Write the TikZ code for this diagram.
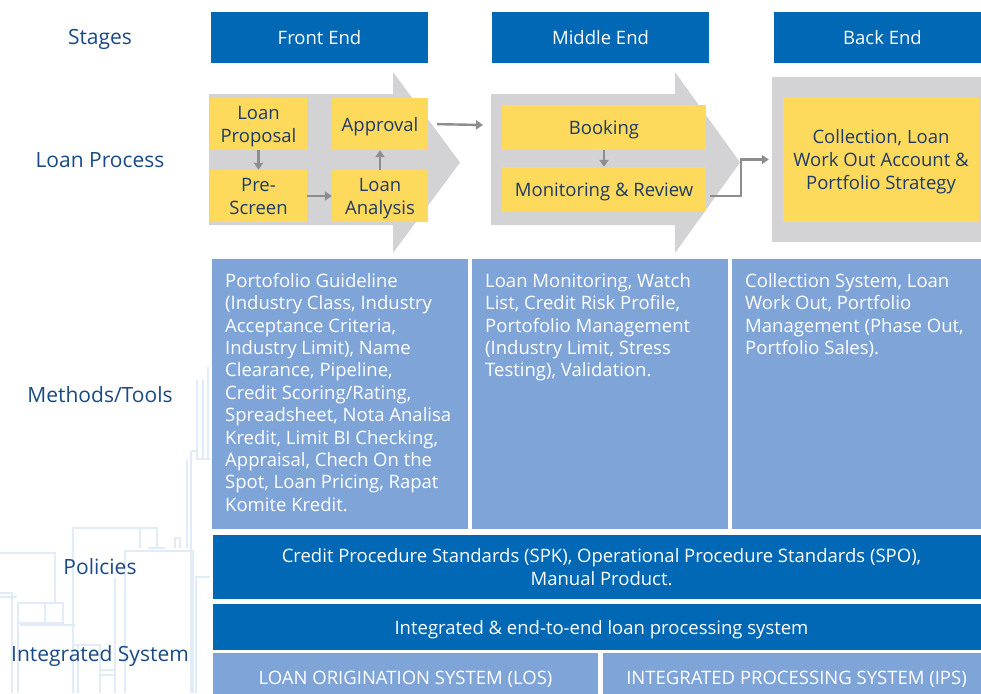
\documentclass[tikz,border=0pt]{standalone}
\usepackage{fontspec}
\setmainfont{Open Sans}
\usetikzlibrary{arrows.meta}
\definecolor{hdrblue}{HTML}{0068B4}
\definecolor{ltblue}{HTML}{7FA4D8}
\definecolor{grayarr}{HTML}{D3D3D5}
\definecolor{yel}{HTML}{FDD95C}
\definecolor{navy}{HTML}{1A4A86}
\definecolor{ytext}{HTML}{1F3A66}
\definecolor{flowgray}{HTML}{8C8D8F}
\definecolor{bldg}{HTML}{E2ECF8}
\newcommand{\sth}{\rule{0pt}{18.6pt}}
\tikzset{
  strutted/.style={execute at begin node={\rule{0pt}{18.6pt}}, execute at end node={\rule[-4.4pt]{0pt}{0pt}}},
  lbl/.style={text=navy, font=\fontsize{21}{24}\selectfont, strutted},
  hdr/.style={fill=hdrblue, text=white, font=\fontsize{18.5}{22.5}\selectfont, inner sep=0pt, strutted},
  ybox/.style={fill=yel, text=ytext, font=\fontsize{18.5}{23}\selectfont, align=center, inner sep=0pt, strutted},
  mbox/.style={fill=ltblue, inner sep=0pt},
  sysbox/.style={fill=ltblue, inner sep=0pt, text=white, font=\fontsize{18.5}{22.5}\selectfont, strutted},
  mtext/.style={text=white, font=\fontsize{18.5}{22.4}\selectfont, align=left, inner sep=0pt, anchor=north west},
  flow/.style={draw=flowgray, line width=2.4pt, -{Triangle[length=7pt,width=9pt]}},
  bl/.style={draw=bldg, line width=1.3pt}
}
\begin{document}
\begin{tikzpicture}[x=1pt,y=-1pt]
\useasboundingbox (0,0) rectangle (981,693);
\clip (0,0) rectangle (981,693);
\fill[white] (0,0) rectangle (981,693);
% background buildings
\draw[bl] (197,380) -- (197,459) -- (210,459);
\draw[bl] (203,380) -- (203,459);
\draw[bl] (208,367) -- (208,459);
\draw[bl] (191,451) -- (197,451);
\draw[bl] (191,451) -- (191,693);
\draw[bl] (187,460) -- (187,548);
\draw[bl] (0,553) -- (55,553) -- (55,603);
\draw[bl] (73,693) -- (73,528) -- (157,528) -- (157,548);
\draw[bl] (140,528) -- (140,548);
\draw[bl] (148,548) -- (165,548);
\draw[bl] (175,548) -- (175,538) -- (180,538) -- (180,548);
\draw[bl] (125,693) -- (125,551) -- (193,551) -- (193,693);
\draw[bl] (115,693) -- (115,578);
\draw[bl] (196,693) -- (196,577) -- (210,577);
\draw[bl] (18,693) -- (18,603) -- (63,603) -- (63,623) -- (18,623);
\draw[bl] (45,603) -- (45,623);
\draw[bl] (20,625) -- (75,625);
\draw[bl] (0,593) -- (12,593) -- (12,693);
\draw[bl] (0,597) -- (17,597);
\draw[bl] (73,645) -- (100,645) -- (100,693);
\draw[bl] (78,645) -- (78,693);
\draw[bl] (100,670) -- (115,670);
\draw[bl] (100,675) -- (115,675);
% left labels
\node[lbl] (lStages) at (100,38) {Stages};
\node[lbl] (lLoan) at (100,160) {Loan Process};
\node[lbl] (lMeth) at (100,395) {Methods/Tools};
\node[lbl] (lPol) at (100,567) {Policies};
\node[lbl] (lInt) at (100,655) {Integrated System};
% stage headers
\node[hdr, minimum width=217pt, minimum height=51pt] (FE) at (319.5,37.5) {Front End};
\node[hdr, minimum width=217pt, minimum height=51pt] (ME) at (600.5,37.5) {Middle End};
\node[hdr, minimum width=217pt, minimum height=51pt] (BE) at (882.5,37.5) {Back End};
% big gray arrows
\fill[grayarr] (209,94) -- (393,94) -- (393,72) -- (460,162.5) -- (393,253) -- (393,225) -- (209,225) -- cycle;
\fill[grayarr] (491,94) -- (675,94) -- (675,72) -- (740,162.5) -- (675,253) -- (675,225) -- (491,225) -- cycle;
\node[fill=grayarr, minimum width=218pt, minimum height=165pt, inner sep=0pt] (BEbox) at (881,159.5) {};
% yellow boxes
\node[ybox, minimum width=97pt, minimum height=52pt] (LP) at (258.5,124) {\sth Loan\\Proposal};
\node[ybox, minimum width=97pt, minimum height=52pt] (PS) at (258.5,196) {\sth Pre-\\Screen};
\node[ybox, minimum width=96pt, minimum height=52pt] (AP) at (380,124) {Approval};
\node[ybox, minimum width=96pt, minimum height=52pt] (LA) at (380,196) {\sth Loan\\Analysis};
\node[ybox, minimum width=204pt, minimum height=45pt] (BK) at (604,127.5) {Booking};
\node[ybox, minimum width=204pt, minimum height=44pt] (MR) at (604,189) {Monitoring \& Review};
\node[ybox, minimum width=196pt, minimum height=125pt] (CL) at (881,159.5) {\sth Collection, Loan\\Work Out Account \&\\Portfolio Strategy};
% flows
\coordinate (apout) at (483,125);
\draw[flow] (LP) -- (PS);
\draw[flow] (PS) -- (LA);
\draw[flow] (LA) -- (AP);
\draw[flow, shorten <=9pt] (AP.east) -- (apout);
\draw[flow] (BK) -- (MR);
\draw[flow] ([shift={(4pt,-7pt)}]MR.east) -- ++(31,0) |- ([xshift=-3pt]BEbox.west);
% methods
\node[mbox, minimum width=256pt, minimum height=270pt] (M1) at (340,394) {};
\node[mbox, minimum width=256pt, minimum height=270pt] (M2) at (600,394) {};
\node[mbox, minimum width=258pt, minimum height=270pt] (M3) at (861,394) {};
\node[mtext] (T1) at (225,273) {Portofolio Guideline\\(Industry Class, Industry\\Acceptance Criteria,\\Industry Limit), Name\\Clearance, Pipeline,\\Credit Scoring/Rating,\\Spreadsheet, Nota Analisa\\Kredit, Limit BI Checking,\\Appraisal, Chech On the\\Spot, Loan Pricing, Rapat\\Komite Kredit.};
\node[mtext] (T2) at (485,273) {Loan Monitoring, Watch\\List, Credit Risk Profile,\\Portofolio Management\\(Industry Limit, Stress\\Testing), Validation.};
\node[mtext] (T3) at (745,273) {Collection System, Loan\\Work Out, Portfolio\\Management (Phase Out,\\Portfolio Sales).};
% policies & systems
\node[hdr, minimum width=777pt, minimum height=64pt, align=center] (POL) at (601.5,567) {\sth Credit Procedure Standards (SPK), Operational Procedure Standards (SPO),\\Manual Product.};
\node[hdr, minimum width=777pt, minimum height=46pt] (INT) at (601.5,627) {Integrated \& end-to-end loan processing system};
\node[sysbox, minimum width=385pt, minimum height=48pt] (LOS) at (405.5,677) {LOAN ORIGINATION SYSTEM (LOS)};
\node[sysbox, minimum width=387pt, minimum height=48pt] (IPS) at (796.5,677) {INTEGRATED PROCESSING SYSTEM (IPS)};
\end{tikzpicture}
\end{document}
